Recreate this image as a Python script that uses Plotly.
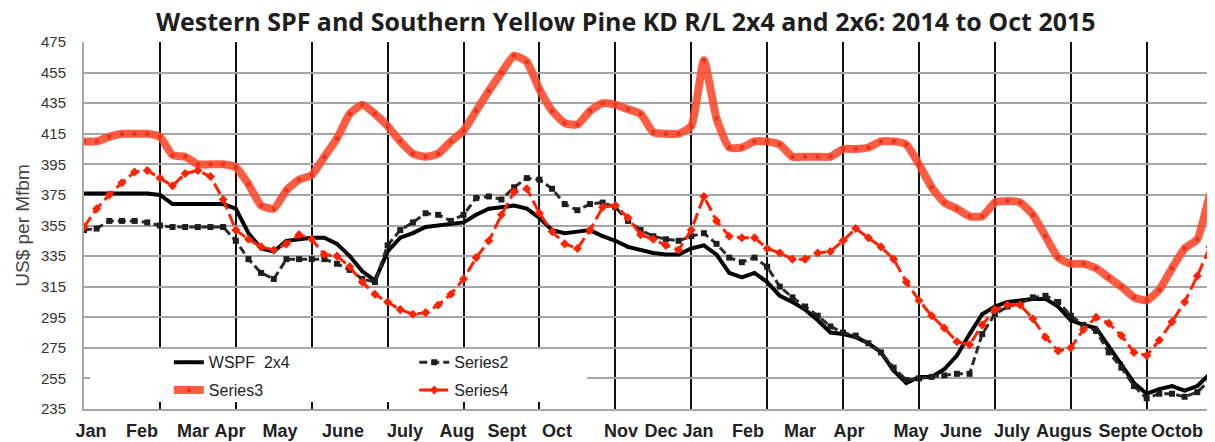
import plotly.graph_objects as go

# weekly observations, Jan 2014 .. Oct 2015 (index = week number)
weeks = list(range(91))

wspf_2x4 = [376, 376, 376, 376, 376, 376, 375, 369, 369, 369,
            369, 369, 366, 350, 340, 338, 345, 346, 347, 347,
            343, 335, 325, 319, 338, 347, 350, 354, 355, 356,
            357, 362, 366, 367, 368, 366, 360, 352, 350, 351,
            352, 348, 345, 341, 339, 337, 336, 336, 340, 342,
            336, 324, 321, 324, 318, 309, 305, 300, 293, 285,
            284, 282, 278, 272, 260, 252, 256, 256, 261, 270,
            284, 297, 302, 305, 306, 307, 307, 302, 293, 290,
            288, 276, 265, 252, 245, 248, 250, 247, 250, 258,
            270]

series2 = [352, 353, 358, 358, 358, 357, 355, 354, 354, 354,
           354, 354, 345, 333, 324, 320, 333, 333, 333, 333,
           330, 326, 320, 318, 342, 352, 357, 363, 362, 358,
           362, 373, 374, 372, 380, 386, 385, 379, 369, 365,
           369, 370, 367, 358, 352, 348, 346, 345, 348, 350,
           343, 334, 331, 334, 328, 315, 308, 302, 296, 289,
           285, 283, 278, 272, 262, 254, 255, 256, 257, 258,
           258, 284, 297, 302, 304, 308, 309, 305, 296, 290,
           286, 272, 262, 250, 242, 245, 245, 243, 246, 254,
           263]

series3 = [410, 410, 413, 415, 415, 415, 413, 401, 400, 395,
           395, 395, 393, 382, 368, 366, 378, 385, 388, 400,
           412, 428, 434, 428, 420, 410, 402, 400, 402, 410,
           417, 430, 443, 455, 466, 462, 444, 430, 422, 421,
           430, 435, 434, 431, 428, 416, 415, 415, 420, 463,
           425, 406, 406, 410, 410, 408, 400, 400, 400, 400,
           405, 405, 406, 410, 410, 408, 395, 380, 370, 366,
           361, 361, 370, 371, 370, 362, 348, 334, 330, 330,
           327, 321, 315, 308, 306, 313, 327, 340, 346, 375,
           393]

series4 = [354, 366, 375, 383, 390, 391, 386, 381, 389, 391,
           387, 372, 352, 346, 341, 339, 343, 349, 346, 336,
           335, 328, 318, 310, 305, 300, 297, 298, 303, 310,
           320, 334, 345, 362, 377, 379, 363, 351, 343, 340,
           352, 367, 368, 360, 349, 346, 342, 339, 352, 374,
           358, 348, 347, 347, 340, 337, 333, 333, 337, 338,
           345, 353, 347, 341, 333, 318, 306, 296, 288, 279,
           277, 290, 300, 303, 303, 294, 282, 273, 275, 287,
           295, 291, 283, 272, 270, 280, 292, 305, 322, 341,
           350]

month_labels = ["Jan", "Feb", "Mar", "Apr", "May", "June", "July", "Aug", "Sept", "Oct",
                "Nov", "Dec", "Jan", "Feb", "Mar", "Apr", "May", "June", "July", "Augus",
                "Septe", "Octob"]
month_pos = [0.55, 4.58, 8.62, 11.54, 15.49, 20.47, 25.38, 29.49, 33.44, 37.39,
             42.45, 45.61, 48.54, 52.49, 56.6, 60.47, 65.38, 69.33, 73.36, 77.47,
             82.13, 86.4]
week_grid = [6, 12, 18, 24, 30, 36, 42, 48, 54, 60, 66, 72, 78, 84]
y_ticks = [235, 255, 275, 295, 315, 335, 355, 375, 395, 415, 435, 455, 475]

FONT = "Liberation Sans, Arial, sans-serif"

fig = go.Figure()
fig.add_trace(go.Scatter(
    x=weeks, y=wspf_2x4, name="WSPF\u00a0\u00a02x4", mode="lines+markers",
    line=dict(color="#000000", width=4),
    marker=dict(symbol="square", size=3, color="#000000"),
    legend="legend", legendgroup="a"))
fig.add_trace(go.Scatter(
    x=weeks, y=series2, name="Series2", mode="lines+markers",
    line=dict(color="#2b2b2b", width=3, dash="8px,4px"),
    marker=dict(symbol="square", size=6, color="#1e1e1e"),
    legend="legend2", legendgroup="b"))
fig.add_trace(go.Scatter(
    x=weeks, y=series3, name="Series3", mode="lines+markers",
    line=dict(color="rgba(255,70,42,0.88)", width=8, shape="spline", smoothing=0.5),
    marker=dict(symbol="square", size=4, color="#e8341a"),
    legend="legend", legendgroup="c"))
fig.add_trace(go.Scatter(
    x=weeks, y=series4, name="Series4", mode="lines+markers",
    line=dict(color="#ff2200", width=3, dash="12px,5px"),
    marker=dict(symbol="diamond", size=7, color="#ff2200"),
    legend="legend2", legendgroup="d"))

legend_common = dict(
    xanchor="left", yanchor="top", bgcolor="rgba(0,0,0,0)",
    font=dict(family=FONT, size=16, color="#222222"),
    itemwidth=30, tracegroupgap=4, traceorder="grouped", itemclick=False,
)

fig.update_layout(
    width=1207, height=434,
    margin=dict(l=76, r=0, t=34, b=33),
    paper_bgcolor="#ffffff", plot_bgcolor="#ffffff",
    showlegend=True,
    title=dict(
        text="<b>Western SPF and Southern Yellow Pine KD R/L 2x4 and 2x6: 2014 to Oct 2015</b>",
        font=dict(family="Open Sans, sans-serif", size=25, color="#1e1e1e"),
        x=0.479, xref="paper", xanchor="center",
        y=1.0, yref="container", yanchor="top", pad=dict(t=5, b=0)),
    xaxis=dict(
        range=[0, 89.4], tickmode="array", tickvals=month_pos, ticktext=month_labels,
        showgrid=False, zeroline=False, ticks="",
        showline=True, linecolor="#a6a6a6", linewidth=2,
        tickfont=dict(family=FONT, size=18, color="#222222", weight="bold"),
        ticklabelstandoff=4,
        minor=dict(tickmode="array", tickvals=week_grid, showgrid=True,
                   gridcolor="#111111", gridwidth=2, ticks=""),
    ),
    yaxis=dict(
        range=[235, 475], tickmode="array", tickvals=y_ticks,
        ticktext=[str(v) for v in y_ticks],
        showgrid=True, gridcolor="#a6a6a6", gridwidth=2,
        zeroline=False, ticks="",
        showline=True, linecolor="#a6a6a6", linewidth=2,
        tickfont=dict(family=FONT, size=15, color="#333333"),
        ticklabelstandoff=13,
        title=dict(text="US$ per Mfbm", font=dict(family=FONT, size=19, color="#444444"),
                   standoff=6),
    ),
    legend=dict(x=0.075, y=0.1736, **legend_common),
    legend2=dict(x=0.292, y=0.1736, **legend_common),
    shapes=[dict(type="rect", xref="paper", yref="paper", x0=0.0053, x1=0.4447,
                 y0=0.019, y1=0.1635, fillcolor="#ffffff", line=dict(width=0),
                 layer="above")],
)

fig.write_html("out.html")
